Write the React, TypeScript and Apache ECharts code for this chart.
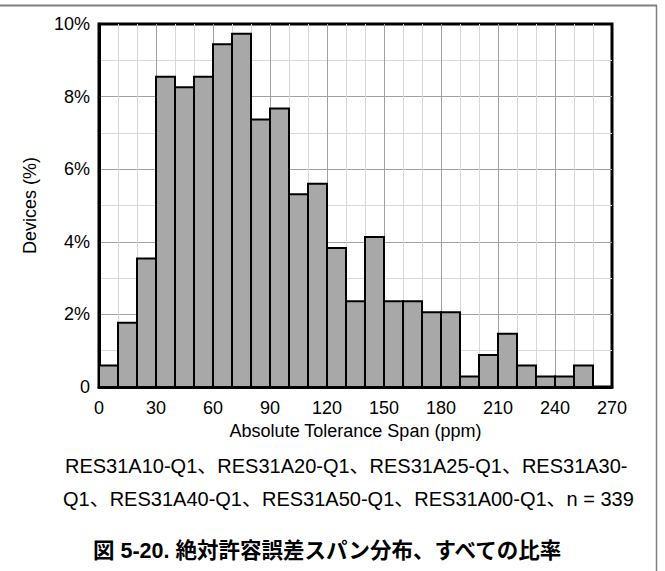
import React, { useEffect, useRef } from "react";
import * as echarts from "echarts";

const binStart = [0, 10, 20, 30, 40, 50, 60, 70, 80, 90, 100, 110, 120, 130, 140, 150, 160, 170, 180, 190, 200, 210, 220, 230, 240, 250];
const binEnd = [10, 20, 30, 40, 50, 60, 70, 80, 90, 100, 110, 120, 130, 140, 150, 160, 170, 180, 190, 200, 210, 220, 230, 240, 250, 260];
const devicesPct = [0.59, 1.77, 3.54, 8.55, 8.26, 8.55, 9.44, 9.73, 7.37, 7.67, 5.31, 5.6, 3.83, 2.36, 4.13, 2.36, 2.36, 2.06, 2.06, 0.29, 0.88, 1.47, 0.59, 0.29, 0.29, 0.59];

const xName = "Absolute Tolerance Span (ppm)";
const yName = "Devices (%)";
const captionLine1 = "RES31A10-Q1、RES31A20-Q1、RES31A25-Q1、RES31A30-";
const captionLine2 = "Q1、RES31A40-Q1、RES31A50-Q1、RES31A00-Q1、n = 339";
const figureTitle = "図 5-20. 絶対許容誤差スパン分布、すべての比率";

const FONT = "'Liberation Sans', Arial, 'Noto Sans CJK JP', sans-serif";

export default function App() {
  const ref = useRef<HTMLDivElement>(null);
  useEffect(() => {
    if (!ref.current) return;
    const chart = echarts.init(ref.current, undefined, { renderer: "svg" });
    const data = binStart.map((s, i) => [s, binEnd[i], devicesPct[i]]);
    chart.setOption({
      animation: false,
      backgroundColor: "#ffffff",
      textStyle: { fontFamily: FONT },
      grid: {
        left: 99,
        right: 53,
        top: 24,
        bottom: 184,
        show: true,
        borderColor: "#000",
        borderWidth: 3,
        backgroundColor: "transparent",
      },
      xAxis: {
        type: "value",
        min: 0,
        max: 270,
        interval: 30,
        name: xName,
        nameLocation: "middle",
        nameGap: 33,
        nameTextStyle: { color: "#000", fontSize: 18, fontFamily: FONT },
        axisLine: { show: true, lineStyle: { color: "#000", width: 3 } },
        axisTick: { show: false },
        axisLabel: { color: "#000", fontSize: 18, margin: 12, fontFamily: FONT },
        splitLine: { show: true, showMinLine: false, showMaxLine: false, lineStyle: { color: "#a0a0a0", width: 1 } },
        minorTick: { show: false, splitNumber: 3 },
        minorSplitLine: { show: true, lineStyle: { color: "#d8d8d8", width: 1 } },
      },
      yAxis: {
        type: "value",
        min: 0,
        max: 10,
        interval: 2,
        name: yName,
        nameLocation: "middle",
        nameGap: 60,
        nameTextStyle: { color: "#000", fontSize: 18, fontFamily: FONT },
        axisLine: { show: true, lineStyle: { color: "#000", width: 3 } },
        axisTick: { show: false },
        axisLabel: {
          color: "#000",
          fontSize: 18,
          margin: 9,
          fontFamily: FONT,
          formatter: (v: number) => (v === 0 ? "0" : v + "%"),
        },
        splitLine: { show: true, showMinLine: false, showMaxLine: false, lineStyle: { color: "#a0a0a0", width: 1 } },
        minorTick: { show: false, splitNumber: 2 },
        minorSplitLine: { show: true, lineStyle: { color: "#d8d8d8", width: 1 } },
      },
      series: [
        {
          type: "custom",
          data,
          encode: { x: [0, 1], y: 2 },
          z: 5,
          renderItem: (params: any, api: any) => {
            const x0 = api.value(0);
            const x1 = api.value(1);
            const v = api.value(2);
            const p0 = api.coord([x0, v]);
            const p1 = api.coord([x1, 0]);
            return {
              type: "rect",
              shape: { x: p0[0], y: p0[1], width: p1[0] - p0[0], height: p1[1] - p0[1] },
              style: { fill: "#a8a8a8", stroke: "#000", lineWidth: 2 },
            };
          },
        },
      ],
      graphic: [
        { type: "line", shape: { x1: 0, y1: 5.5, x2: 657, y2: 5.5 }, style: { stroke: "#808080", lineWidth: 2 } },
        { type: "line", shape: { x1: 656.5, y1: 5, x2: 656.5, y2: 571 }, style: { stroke: "#808080", lineWidth: 1.5 } },
        {
          type: "text",
          x: 65,
          y: 466,
          style: { text: captionLine1, fill: "#000", font: `20px ${FONT}`, textVerticalAlign: "middle", verticalAlign: "middle" },
        },
        {
          type: "text",
          x: 63,
          y: 499,
          style: { text: captionLine2, fill: "#000", font: `20px ${FONT}`, textVerticalAlign: "middle", verticalAlign: "middle" },
        },
        {
          type: "text",
          x: 93,
          y: 551,
          style: { text: figureTitle, fill: "#000", font: `bold 21.5px ${FONT}`, textVerticalAlign: "middle", verticalAlign: "middle" },
        },
      ],
    });
    return () => chart.dispose();
  }, []);
  return <div ref={ref} style={{ position: "fixed", left: 0, top: 0, width: 665, height: 571 }} />;
}
